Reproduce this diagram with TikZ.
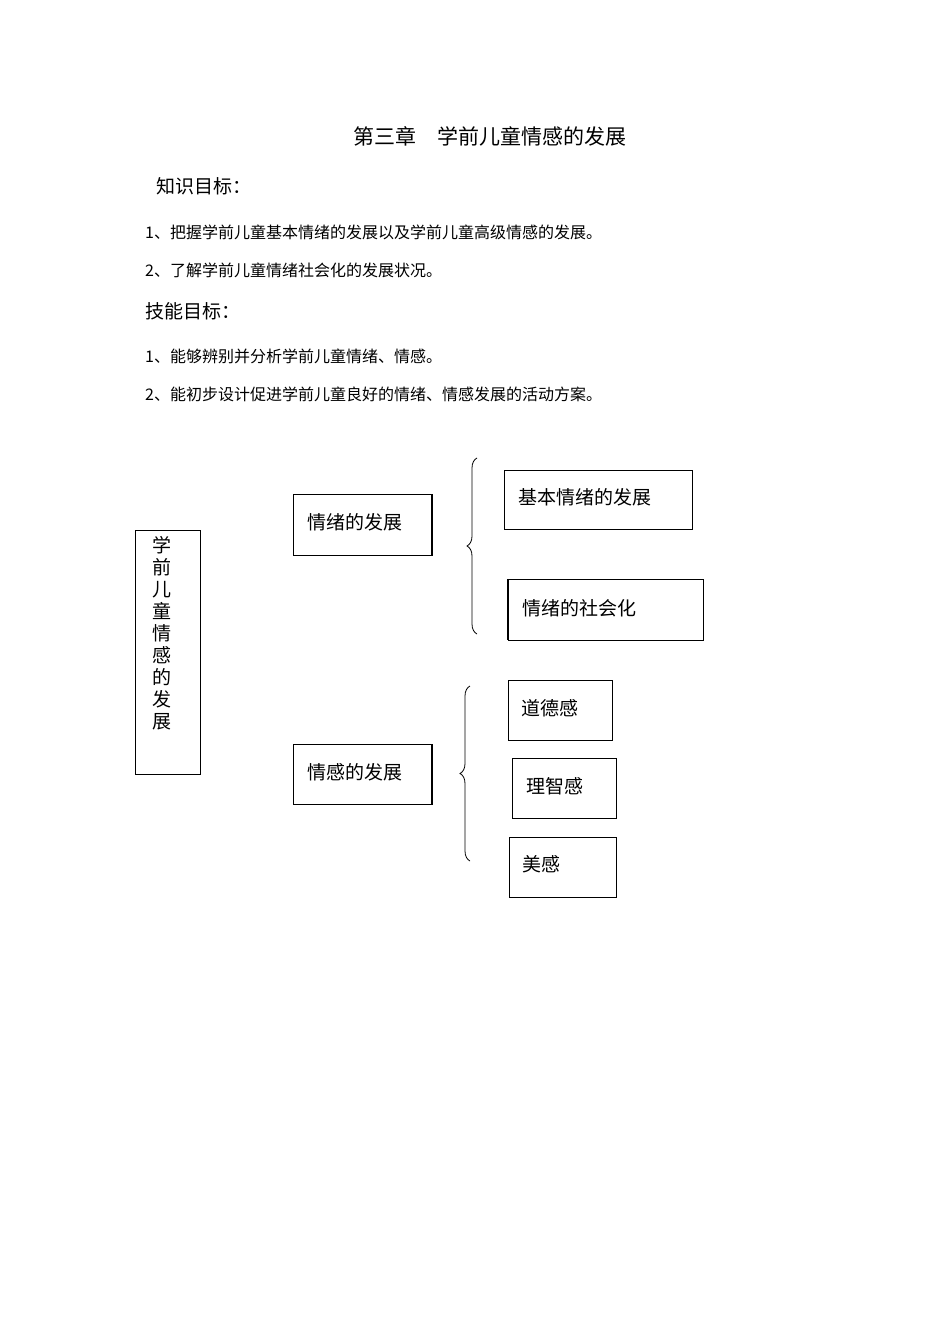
\documentclass[tikz,border=0pt]{standalone}
\usepackage{fontspec}
\setmainfont{Noto Sans CJK SC}
\usetikzlibrary{decorations.pathreplacing}
\begin{document}
\begin{tikzpicture}[x=1pt,y=-1pt,
  bx/.style={draw,line width=0.8pt},
  lbl/.style={anchor=west,inner sep=0pt,font=\fontsize{19}{19}\selectfont},
  txt/.style={anchor=west,inner sep=0pt,font=\fontsize{16}{16}\selectfont},
  br/.style={decorate,decoration={brace,amplitude=10pt},line width=0.8pt}]
\useasboundingbox[fill=white] (0,0) rectangle (950,1344);
\node[inner sep=0pt,font=\fontsize{21}{21}\selectfont] (title) at (490,136) {第三章\quad 学前儿童情感的发展};
\node[lbl] (t1) at (156,186) {知识目标：};
\node[txt] (l1) at (145,232) {1、把握学前儿童基本情绪的发展以及学前儿童高级情感的发展。};
\node[txt] (l2) at (145,270) {2、了解学前儿童情绪社会化的发展状况。};
\node[lbl] (t2) at (145,311) {技能目标：};
\node[txt] (l3) at (145,356) {1、能够辨别并分析学前儿童情绪、情感。};
\node[txt] (l4) at (145,394) {2、能初步设计促进学前儿童良好的情绪、情感发展的活动方案。};

\draw[bx] (135,530) rectangle (200,774);
\node[inner sep=0pt,align=center,font=\fontsize{19}{22}\selectfont] (v) at (162,633) {学\\前\\儿\\童\\情\\感\\的\\发\\展};

\draw[bx] (293,494) rectangle (432,555);
\draw[line width=1.6pt] (432,494)--(432,555);
\node[lbl] (a) at (307,522) {情绪的发展};
\draw[bx] (293,744) rectangle (432,804);
\draw[line width=1.6pt] (432,744)--(432,804);
\node[lbl] (b) at (307,772) {情感的发展};

\draw[br] (477,634) -- (477,458);
\draw[br] (470,861) -- (470,686);

\draw[bx] (504,470) rectangle (692,529);
\node[lbl] (c1) at (518,497) {基本情绪的发展};
\draw[bx] (508,579) rectangle (703,640);
\draw[line width=1.6pt] (508,579)--(508,640);
\node[lbl] (c2) at (522,608) {情绪的社会化};
\draw[bx] (508,680) rectangle (612,740);
\node[lbl] (d1) at (521,708) {道德感};
\draw[bx] (512,758) rectangle (616,818);
\node[lbl] (d2) at (526,786) {理智感};
\draw[bx] (509,837) rectangle (616,897);
\node[lbl] (d3) at (522,864) {美感};
\end{tikzpicture}
\end{document}
